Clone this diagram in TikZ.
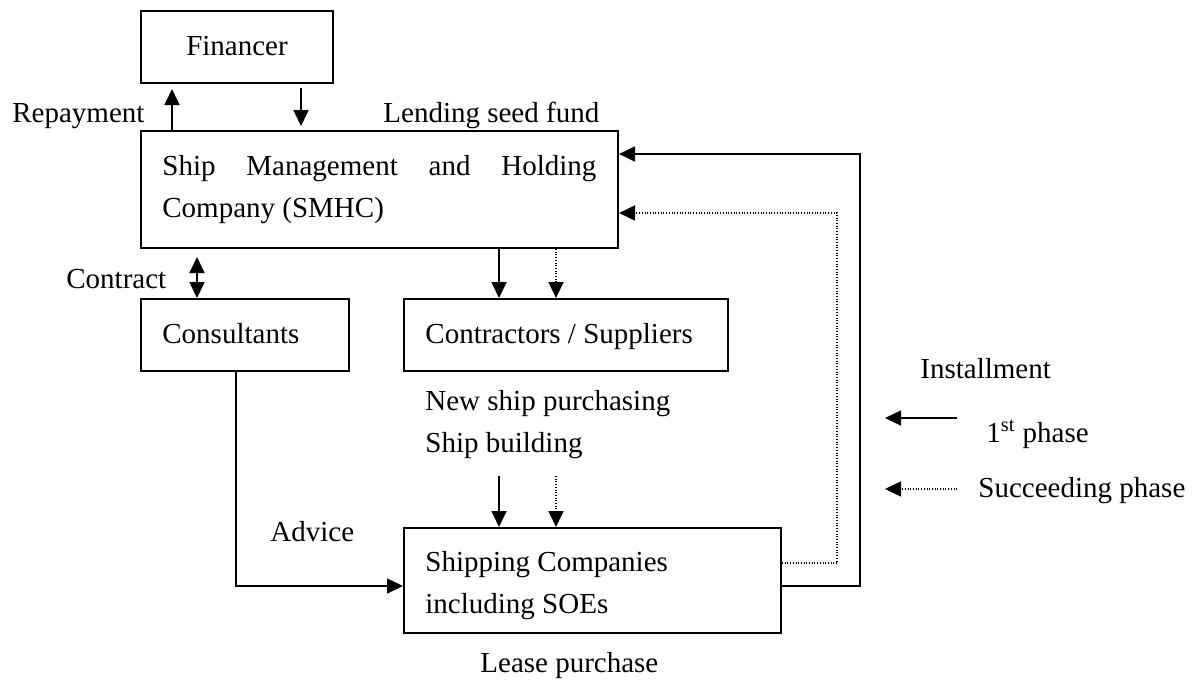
\documentclass[tikz,border=0pt]{standalone}
\usepackage{fontspec}
\setmainfont{Liberation Serif}
\usetikzlibrary{arrows.meta,calc}

\begin{document}
\begin{tikzpicture}[x=0.5pt,y=-0.5pt,
  every node/.style={font=\fontsize{14.5pt}{21pt}\selectfont},
  box/.style={draw, line width=1pt, anchor=north west, inner sep=0pt},
  txt/.style={anchor=base west, inner sep=0pt, align=left},
  conn/.style={line width=0.8pt},
  head/.style={Triangle[length=8pt,width=7.5pt]},
  arr/.style={conn, -{Triangle[length=8pt,width=7.5pt]}},
  dotline/.style={line width=0.8pt, dash pattern=on 0.4pt off 0.95pt},
]
\useasboundingbox (0,0) rectangle (1202,680);

% boxes
\node[box, minimum width=96pt,    minimum height=36pt]   (fin)   at (140,10)  {};
\node[box, minimum width=238.5pt, minimum height=58.5pt] (smhc)  at (140,130) {};
\node[box, minimum width=104pt,   minimum height=36pt]   (cons)  at (140,298) {};
\node[box, minimum width=162pt,   minimum height=36pt]   (contr) at (403,298) {};
\node[box, minimum width=188.5pt, minimum height=52.5pt] (ship)  at (403,527) {};

% box texts (base anchor of a two-line text is its last baseline)
\node[anchor=base, inner sep=0pt] (fin-t) at ($(fin.north)+(0,45)$) {Financer};
\node[txt] (smhc-t) at ($(smhc.north west)+(22,87)$)
  {\makebox[217pt][s]{Ship Management and Holding}\\Company (SMHC)};
\node[txt] (cons-t)  at ($(cons.north west)+(22,45)$)  {Consultants};
\node[txt] (contr-t) at ($(contr.north west)+(22,45)$) {Contractors / Suppliers};
\node[txt] (ship-t)  at ($(ship.north west)+(22,86)$)  {Shipping Companies\\including SOEs};

% free labels
\node[txt] (rep)   at (12,122)  {Repayment};
\node[txt] (lend)  at (383,122) {Lending seed fund};
\node[txt] (contract) at (66,288) {Contract};
\node[txt] (build) at (425,452) {New ship purchasing\\Ship building};
\node[txt] (advice) at (270,541) {Advice};
\node[txt] (lease) at (480,672) {Lease purchase};
\node[txt] (inst)  at (920,378) {Installment};
\node[txt] (ph1)   at (986,442) {1\textsuperscript{st} phase};
\node[txt] (ph2)   at (978,497) {Succeeding phase};

% guide coordinates
\coordinate (xrep)  at (172,0);
\coordinate (xlend) at (301,0);
\coordinate (xcon)  at (197,0);
\coordinate (xsup1) at (499,0);
\coordinate (xsup2) at (556,0);
\coordinate (xadv)  at (236,0);
\coordinate (xsol)  at (860,0);
\coordinate (xdot)  at (837,0);
\coordinate (ysol)  at (0,586);
\coordinate (ydot)  at (0,563);
\coordinate (ysolt) at (0,154);
\coordinate (ydott) at (0,213);
\coordinate (nb1) at (499,476);
\coordinate (nb2) at (556,476);
\coordinate (l1s) at (957,418);
\coordinate (l1e) at (885,418);
\coordinate (l2s) at (957,489);
\coordinate (l2e) at (885,489);

% financer links
\draw[arr, shorten >=2.5pt] (smhc.north -| xrep) -- (fin.south -| xrep);
\draw[arr, shorten <=2pt, shorten >=2pt] (fin.south -| xlend) -- (smhc.north -| xlend);

% contract
\draw[conn, {Triangle[length=8pt,width=7.5pt]}-{Triangle[length=8pt,width=7.5pt]}, shorten <=4pt]
  (smhc.south -| xcon) -- (cons.north -| xcon);

% SMHC to contractors
\draw[arr] (smhc.south -| xsup1) -- (contr.north -| xsup1);
\draw[arr, dotline] (smhc.south -| xsup2) -- (contr.north -| xsup2);

% into shipping companies
\draw[arr] (nb1) -- (ship.north -| nb1);
\draw[arr, dotline] (nb2) -- (ship.north -| nb2);

% advice
\draw[arr] (cons.south -| xadv) -- (xadv |- ysol) -- (ship.west |- ysol);

% installments back to SMHC
\draw[arr] (ship.east |- ysol) -- (xsol |- ysol) -- (xsol |- ysolt) -- (smhc.east |- ysolt);
\draw[arr, dotline] (ship.east |- ydot) -- (xdot |- ydot) -- (xdot |- ydott) -- (smhc.east |- ydott);

% legend
\draw[arr] (l1s) -- (l1e);
\draw[arr, dotline] (l2s) -- (l2e);
\end{tikzpicture}
\end{document}
